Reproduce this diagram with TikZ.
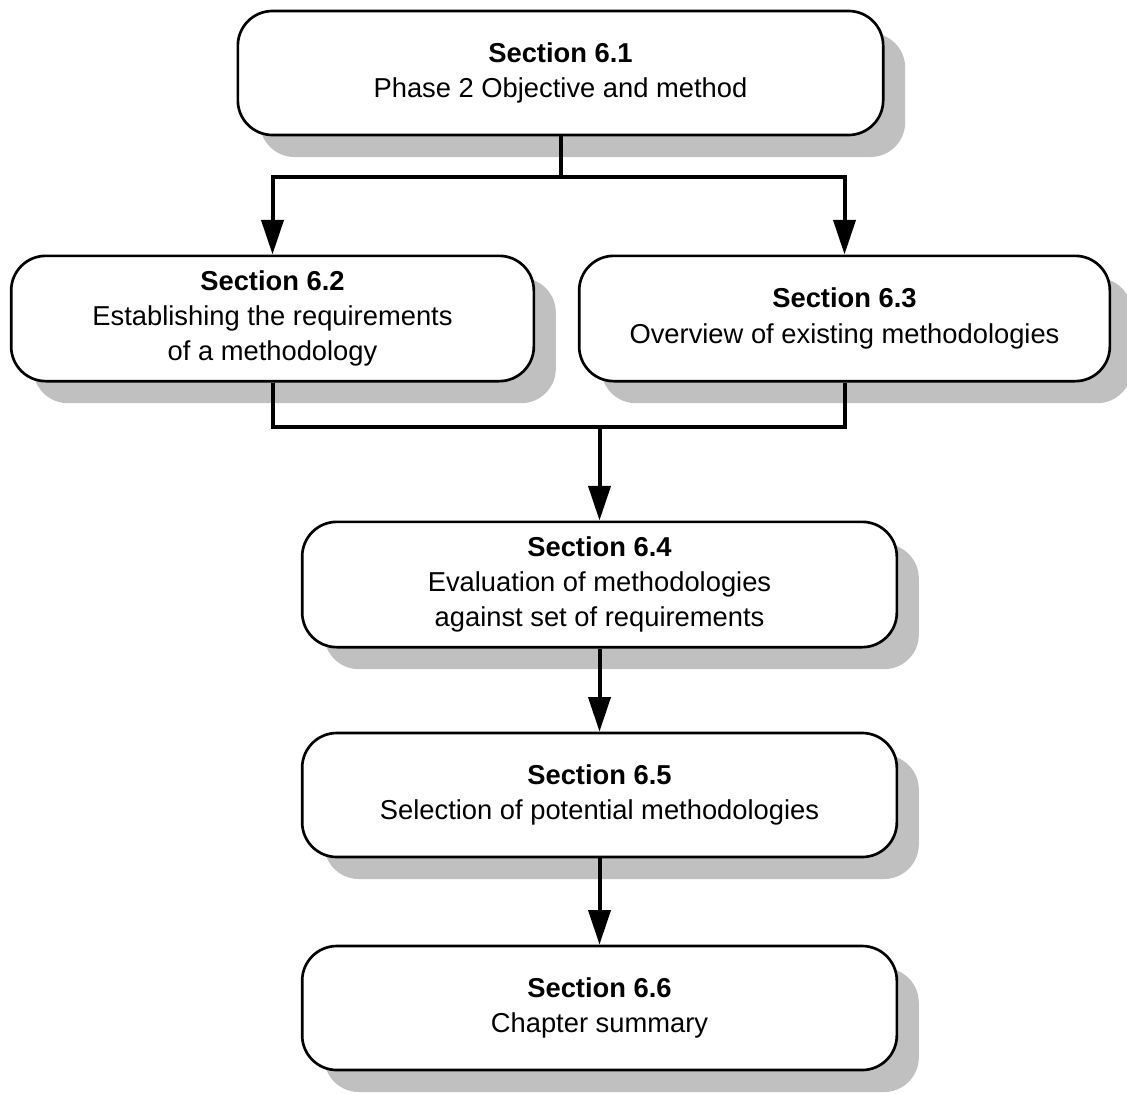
\documentclass[tikz,border=0pt]{standalone}
\usepackage{fontspec}
\setmainfont{Liberation Sans}
\usetikzlibrary{arrows.meta,shadows}
\definecolor{shadowgray}{RGB}{192,192,192}
\begin{document}
\begin{tikzpicture}[x=0.75pt,y=-0.75pt,
  secbox/.style={draw=black, line width=2pt, fill=white, rounded corners=26pt,
    inner sep=0pt, align=center, font=\fontsize{20.5pt}{26.5pt}\selectfont,
    general shadow={fill=shadowgray, shadow xshift=16.5pt, shadow yshift=-16.5pt}},
  link/.style={line width=3pt},
  flow/.style={line width=3pt, -{Triangle[length=26pt,width=16.5pt]}}]
\useasboundingbox (0,0) rectangle (1127,1093);

% section boxes
\node[secbox, minimum width=484pt, minimum height=93pt] (s61) at (560.5,73)
  {\textbf{Section 6.1}\\Phase 2 Objective and method};
\node[secbox, minimum width=392pt, minimum height=94pt] (s62) at (272.5,318.5)
  {\textbf{Section 6.2}\\Establishing the requirements\\of a methodology};
\node[secbox, minimum width=398pt, minimum height=94pt] (s63) at (844.5,318.5)
  {\textbf{Section 6.3}\\Overview of existing methodologies};
\node[secbox, minimum width=446pt, minimum height=94pt] (s64) at (599.5,584.5)
  {\textbf{Section 6.4}\\Evaluation of methodologies\\against set of requirements};
\node[secbox, minimum width=446pt, minimum height=93pt] (s65) at (599.5,795)
  {\textbf{Section 6.5}\\Selection of potential methodologies};
\node[secbox, minimum width=446pt, minimum height=93pt] (s66) at (599.5,1008)
  {\textbf{Section 6.6}\\Chapter summary};

% branch from 6.1 to 6.2 and 6.3
\coordinate (split) at (560.5,177);
\draw[link] (s61.south) -- (split);
\draw[flow] (split) -| (s62.north);
\draw[flow] (split) -| (s63.north);

% merge from 6.2 and 6.3 into 6.4
\coordinate (merge) at (599.5,427);
\draw[link] (s62.south) |- (merge);
\draw[link] (s63.south) |- (merge);
\draw[flow] (merge) -- (s64.north);

% chain 6.4 -> 6.5 -> 6.6
\draw[flow] (s64.south) -- (s65.north);
\draw[flow] (s65.south) -- (s66.north);
\end{tikzpicture}
\end{document}
